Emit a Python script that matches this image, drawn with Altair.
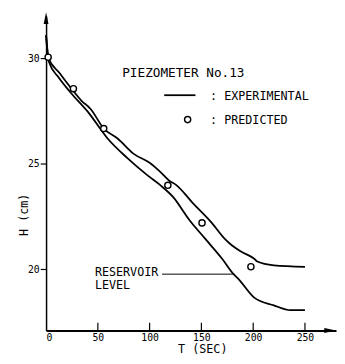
import altair as alt
import pandas as pd

# Experimental piezometer head (upper curve)
exp_t = [0, 2, 13, 24.5, 34, 43, 55.7, 69, 85, 100, 109, 119, 125.5, 141.5, 160, 172.6, 179, 188.7, 201, 204, 220, 250]
exp_h = [31.1, 30.05, 29.3, 28.56, 28.0, 27.6, 26.67, 26.2, 25.46, 25.05, 24.68, 24.2, 24.0, 23.15, 22.2, 21.44, 21.15, 20.83, 20.5, 20.37, 20.19, 20.12]

# Reservoir level (lower curve)
res_t = [0, 3, 12, 23.6, 40.6, 59.4, 78.3, 98, 110, 122.6, 138, 154, 170, 182, 185, 201, 220, 236, 250]
res_h = [31.1, 29.8, 29.1, 28.38, 27.45, 26.2, 25.28, 24.45, 24.0, 23.43, 22.36, 21.43, 20.5, 19.72, 19.58, 18.66, 18.29, 18.06, 18.06]

# Predicted points
pred_t = [2, 26.4, 55.7, 117.6, 150.6, 197.8]
pred_h = [30.05, 28.56, 26.67, 23.98, 22.2, 20.12]

x_ticks = [0, 50, 100, 150, 200, 250]
y_ticks = [20, 25, 30]

pointer_t = [112, 182]
pointer_h = [19.77, 19.77]

FONT = "DejaVu Sans Mono"

df_exp = pd.DataFrame({"T": exp_t, "H": exp_h})
df_res = pd.DataFrame({"T": res_t, "H": res_h})
df_pred = pd.DataFrame({"T": pred_t, "H": pred_h})
df_ticks = pd.DataFrame({"T": x_ticks[1:]})
df_ptr = pd.DataFrame({"T": pointer_t, "H": pointer_h})

xscale = alt.Scale(domain=[0, 280], nice=False, zero=False)
yscale = alt.Scale(domain=[17.1, 32], nice=False, zero=False)

xaxis = alt.Axis(values=x_ticks, ticks=False, grid=False, domainColor="black", domainWidth=2,
                 labelFont=FONT, labelFontSize=10, labelColor="black", labelPadding=2,
                 labelBaseline="top", title="T (SEC)", titleFont=FONT, titleFontSize=12,
                 titleFontWeight="normal", titleColor="black", titleX=160, titleY=23,
                 titleAlign="center", titleBaseline="alphabetic")
yaxis = alt.Axis(values=y_ticks, grid=False, domainColor="black", domainWidth=1.5,
                 tickColor="black", tickSize=6, tickWidth=1.2,
                 labelFont=FONT, labelFontSize=10, labelColor="black", labelPadding=1,
                 title="H (cm)", titleFont=FONT, titleFontSize=12, titleFontWeight="normal",
                 titleColor="black", titleX=-19, titleY=203, titleAngle=-90,
                 titleAlign="center", titleBaseline="alphabetic")

X = alt.X("T:Q", scale=xscale, axis=xaxis)
Y = alt.Y("H:Q", scale=yscale, axis=yaxis)

exp_line = alt.Chart(df_exp).mark_line(color="black", strokeWidth=1.8, interpolate="monotone").encode(x=X, y=Y)
res_line = alt.Chart(df_res).mark_line(color="black", strokeWidth=1.8, interpolate="monotone").encode(x=X, y=Y)
pred_pts = alt.Chart(df_pred).mark_point(shape="circle", filled=True, fill="white", stroke="black",
                                          strokeWidth=1.4, size=40, opacity=1).encode(x=X, y=Y)
ptr = alt.Chart(df_ptr).mark_line(color="black", strokeWidth=1).encode(x=X, y=Y)

ticks = alt.Chart(df_ticks).mark_rule(color="black", strokeWidth=1.2).encode(
    x=alt.X("T:Q", scale=xscale, axis=xaxis), y=alt.value(322), y2=alt.value(314))

up_arrow = alt.Chart(pd.DataFrame({"a": [0]})).mark_point(
    shape="M0,-1L0.33,0.6L-0.33,0.6Z", filled=True, color="black", size=225, opacity=1
).encode(x=alt.value(0), y=alt.value(3.5))
right_arrow = alt.Chart(pd.DataFrame({"a": [0]})).mark_point(
    shape="M1,0L-0.6,0.33L-0.6,-0.33Z", filled=True, color="black", size=225, opacity=1
).encode(x=alt.value(289.5), y=alt.value(322))

def txt(s, x, y, size):
    return alt.Chart(pd.DataFrame({"s": [s]})).mark_text(
        font=FONT, fontSize=size, align="left", baseline="alphabetic", color="black"
    ).encode(text="s:N", x=alt.value(x), y=alt.value(y))

t_title = txt("PIEZOMETER No.13", 78, 62, 13)
t_exp = txt(": EXPERIMENTAL", 168, 86, 12)
t_pred = txt(": PREDICTED", 168, 111, 12)
t_res1 = txt("RESERVOIR", 50, 266, 12)
t_res2 = txt("LEVEL", 50, 280, 12)

leg_line = alt.Chart(pd.DataFrame({"a": [0]})).mark_rule(color="black", strokeWidth=1.8).encode(
    x=alt.value(121), x2=alt.value(153), y=alt.value(81))
leg_pt = alt.Chart(pd.DataFrame({"a": [0]})).mark_point(
    shape="circle", filled=True, fill="white", stroke="black", strokeWidth=1.4, size=40, opacity=1
).encode(x=alt.value(145), y=alt.value(106))

chart = alt.layer(
    exp_line, res_line, ptr, pred_pts, ticks, up_arrow, right_arrow,
    t_title, t_exp, t_pred, t_res1, t_res2, leg_line, leg_pt
).properties(
    width=297, height=322,
    autosize=alt.AutoSizeParams(type="none"),
    padding={"left": 39, "top": 4, "right": 1, "bottom": 30},
    background="white"
).configure_view(stroke=None)

chart.save("out.html", embed_options={"renderer": "svg", "actions": False})
